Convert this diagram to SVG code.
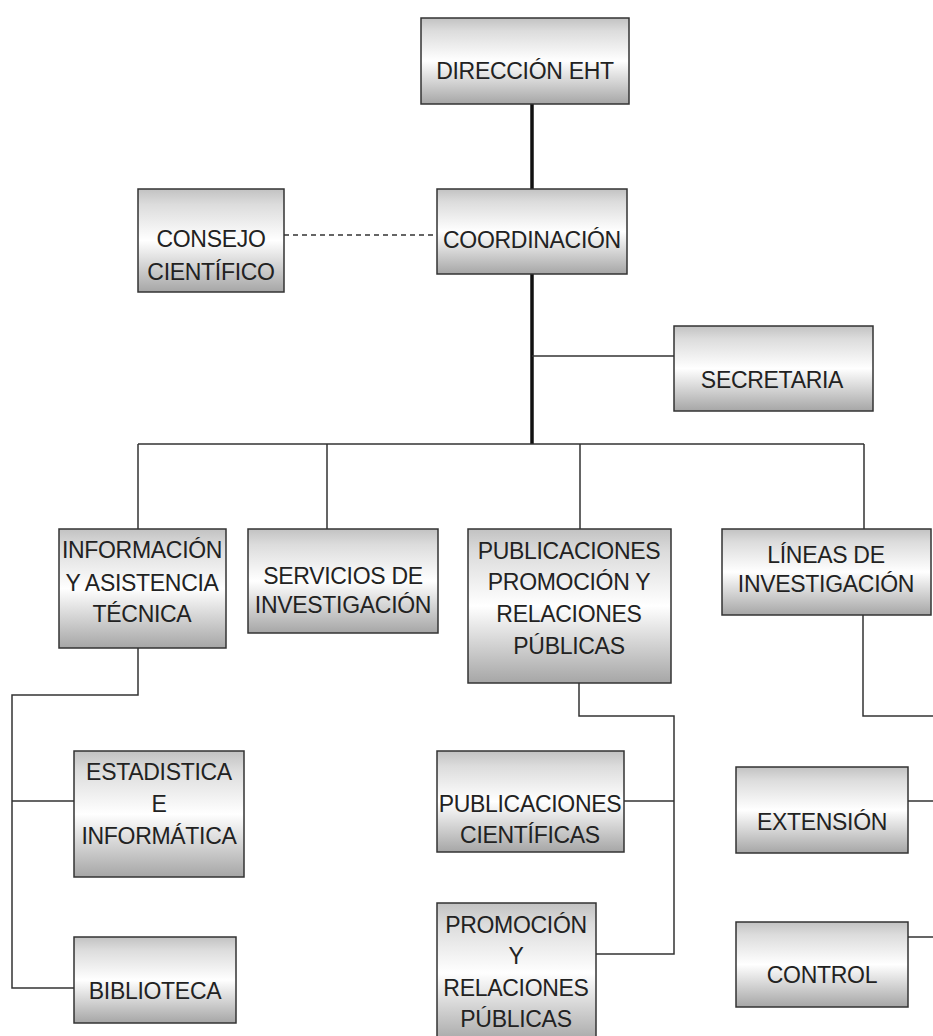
<svg xmlns="http://www.w3.org/2000/svg" width="933" height="1036" viewBox="0 0 933 1036">
<defs>
<linearGradient id="g" x1="0" y1="0" x2="0" y2="1">
<stop offset="0" stop-color="#c2c2c2"/>
<stop offset="0.15" stop-color="#dcdcdc"/>
<stop offset="0.5" stop-color="#ffffff"/>
<stop offset="1" stop-color="#a6a6a6"/>
</linearGradient>
</defs>
<style>
.box{fill:url(#g);stroke:#333;stroke-width:1.5}
.t{font-family:"Liberation Sans",Arial,sans-serif;font-size:23px;letter-spacing:-0.3px;fill:#222;text-anchor:middle}
.c{fill:none;stroke:#333;stroke-width:1.5}
.k{fill:none;stroke:#111;stroke-width:3.5}
.d{fill:none;stroke:#333;stroke-width:1.5;stroke-dasharray:5 4}
</style>
<rect width="933" height="1036" fill="#fff"/>
<g id="connectors">
<path class="k" d="M532 104V189M532 274V444"/>
<path class="d" d="M284 235H437"/>
<path class="c" d="M532 356H674"/>
<path class="c" d="M138 444H864M138 444V529M327 444V529M580 444V529M864 444V529"/>
<path class="c" d="M138 648V695H12V988H74M12 801H74"/>
<path class="c" d="M579 683V716H674V954H596M624 801H674"/>
<path class="c" d="M863 615V716H933M908 801H933M908 937H933"/>
</g>
<g id="direccion"><rect class="box" x="421" y="18" width="208" height="86"/><text class="t" x="525" y="79">DIRECCIÓN EHT</text></g>
<g id="coordinacion"><rect class="box" x="437" y="189" width="190" height="85"/><text class="t" x="532" y="248">COORDINACIÓN</text></g>
<g id="consejo"><rect class="box" x="138" y="189" width="146" height="103"/><text class="t" x="211" y="247">CONSEJO</text><text class="t" x="211" y="280">CIENTÍFICO</text></g>
<g id="secretaria"><rect class="box" x="674" y="326" width="199" height="85"/><text class="t" x="772" y="388">SECRETARIA</text></g>
<g id="informacion"><rect class="box" x="59" y="529" width="167" height="119"/><text class="t" x="142" y="558">INFORMACIÓN</text><text class="t" x="142" y="591">Y ASISTENCIA</text><text class="t" x="142" y="622">TÉCNICA</text></g>
<g id="servicios"><rect class="box" x="248" y="529" width="190" height="104"/><text class="t" x="343" y="584">SERVICIOS DE</text><text class="t" x="343" y="613">INVESTIGACIÓN</text></g>
<g id="publicaciones"><rect class="box" x="468" y="529" width="203" height="154"/><text class="t" x="569" y="559">PUBLICACIONES</text><text class="t" x="569" y="590">PROMOCIÓN Y</text><text class="t" x="569" y="622">RELACIONES</text><text class="t" x="569" y="654">PÚBLICAS</text></g>
<g id="lineas"><rect class="box" x="722" y="529" width="209" height="86"/><text class="t" x="826" y="563">LÍNEAS DE</text><text class="t" x="826" y="592">INVESTIGACIÓN</text></g>
<g id="estadistica"><rect class="box" x="74" y="751" width="170" height="126"/><text class="t" x="159" y="780">ESTADISTICA</text><text class="t" x="159" y="812">E</text><text class="t" x="159" y="844">INFORMÁTICA</text></g>
<g id="biblioteca"><rect class="box" x="74" y="937" width="162" height="86"/><text class="t" x="155" y="999">BIBLIOTECA</text></g>
<g id="pubcientificas"><rect class="box" x="437" y="751" width="187" height="101"/><text class="t" x="530" y="812">PUBLICACIONES</text><text class="t" x="530" y="843">CIENTÍFICAS</text></g>
<g id="promocion"><rect class="box" x="437" y="903" width="159" height="140"/><text class="t" x="516" y="933">PROMOCIÓN</text><text class="t" x="516" y="964">Y</text><text class="t" x="516" y="996">RELACIONES</text><text class="t" x="516" y="1027">PÚBLICAS</text></g>
<g id="extension"><rect class="box" x="736" y="767" width="172" height="86"/><text class="t" x="822" y="830">EXTENSIÓN</text></g>
<g id="control"><rect class="box" x="736" y="922" width="172" height="85"/><text class="t" x="822" y="983">CONTROL</text></g>
</svg>
